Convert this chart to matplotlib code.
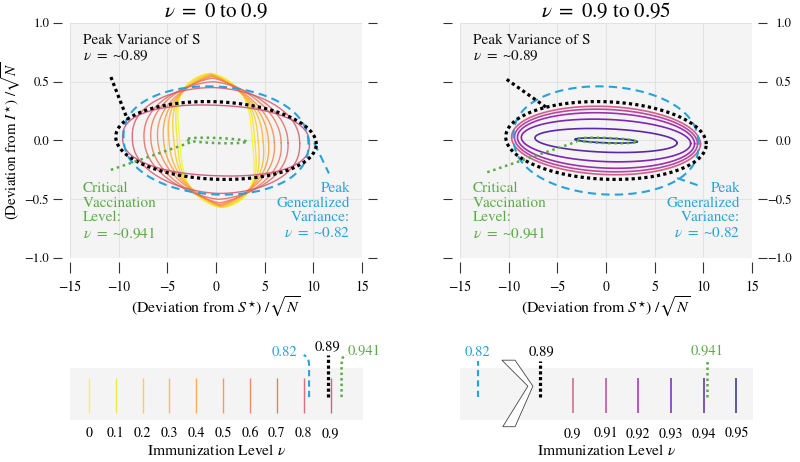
import numpy as np
import matplotlib.pyplot as plt
from matplotlib.patches import Polygon

plt.rcParams['font.family'] = 'STIXGeneral'
plt.rcParams['mathtext.fontset'] = 'stix'

# contour sizes: half width (S), half height (I)
nu_left = [0, 0.1, 0.2, 0.3, 0.4, 0.5, 0.6, 0.7, 0.8, 0.9]
width_left = [3.75, 4.0, 4.35, 4.85, 5.4, 6.0, 6.7, 7.4, 8.6, 9.6]
height_left = [0.57, 0.57, 0.565, 0.56, 0.555, 0.545, 0.53, 0.50, 0.45, 0.30]
# shape exponents (x, y) and shear of each contour
px_left = [1.5, 1.4, 1.3, 1.2, 1.2, 1.2, 1.3, 1.5, 1.8, 2.2]
py_left = [4.0, 3.5, 3.0, 2.6, 2.3, 2.2, 2.2, 2.2, 2.3, 2.4]
skew_left = [-1.0, -1.0, -1.0, -0.9, -0.8, -0.7, -0.6, -0.4, -0.2, 0.0]

nu_right = [0.9, 0.91, 0.92, 0.93, 0.94, 0.95]
width_right = [9.7, 9.4, 9.1, 8.7, 7.3, 3.2]
height_right = [0.29, 0.265, 0.235, 0.18, 0.10, 0.02]

# highlighted levels
nu_gv, width_gv, height_gv = 0.82, 9.5, 0.46      # peak generalized variance
nu_vs, width_vs, height_vs = 0.89, 10.3, 0.33     # peak variance of S
nu_cv, width_cv, height_cv = 0.941, 3.1, 0.022    # critical vaccination

# leader lines (x0, y0, x1, y1) for each panel
lead_vs = [(-10.8, 0.54, -9.1, 0.18), (-10.2, 0.52, -6.1, 0.28)]
lead_cv = [(-10.8, -0.25, -2.4, -0.01), (-12.2, -0.27, -3.0, -0.01)]
lead_gv = [(10.1, -0.02, 11.6, -0.28), (7.3, -0.32, 9.4, -0.38)]

# where 0.82 sits on the broken axis of the right strip
break_pos_gv = 0.871

blue = '#27a3dc'
green = '#5aab46'
bg = '#f4f4f4'
cmap = plt.get_cmap('plasma')


def col_left(nu):
    return cmap(1 - nu / 1.8)


def col_right(nu):
    return cmap(0.5 - (nu - 0.9) * 10)


def contour(a, b, p=2.0, q=2.0, skew=0.0, tilt=-0.003):
    t = np.linspace(0, 2 * np.pi, 600)
    c, s = np.cos(t), np.sin(t)
    u = a * np.sign(c) * np.abs(c) ** (2 / p)
    v = b * np.sign(s) * np.abs(s) ** (2 / q)
    return u + skew * v, v + tilt * u


fig = plt.figure(figsize=(8, 4.62), dpi=100)
ax1 = fig.add_axes([0.0875, 0.4416, 0.365, 0.5086])
ax2 = fig.add_axes([0.575, 0.4416, 0.365, 0.5086])
bx1 = fig.add_axes([0.0875, 0.091, 0.366, 0.1125])
bx2 = fig.add_axes([0.575, 0.091, 0.366, 0.1125])

for ax in (ax1, ax2):
    ax.set_facecolor(bg)
    ax.set_xlim(-15, 15)
    ax.set_ylim(-1, 1)
    ax.set_xticks([-15, -10, -5, 0, 5, 10, 15])
    ax.set_yticks([-1, -0.5, 0, 0.5, 1])
    ax.grid(color='#e2e2e2', lw=0.8)
    ax.set_axisbelow(True)
    for sp in ax.spines.values():
        sp.set_visible(False)
    ax.spines['left'].set_position(('outward', 6))
    ax.spines['right'].set_position(('outward', 4))
    ax.spines['bottom'].set_position(('outward', 3))
    ax.tick_params(axis='x', length=8, width=0.8, color='#333333', pad=5, labelsize=9.8)
    ax.tick_params(axis='y', length=6.5, width=0.8, color='#333333', labelsize=9.2,
                   left=True, right=True)
    ax.set_xlabel(r'(Deviation from $S^{\star}$) /$\sqrt{N}$', fontsize=11.4, labelpad=1)

ax1.tick_params(axis='y', labelleft=True, labelright=False, pad=2.5)
ax2.tick_params(axis='y', labelleft=False, labelright=True, pad=18)
for lab in ax2.get_yticklabels():
    lab.set_horizontalalignment('right')
ax1.set_ylabel(r'(Deviation from $I^{\star}$) /$\sqrt{N}$', fontsize=10.8)
ax1.yaxis.set_label_coords(-0.162, 0.5)
ax1.set_title(r'$\nu\ =\ 0\ \mathrm{to}\ 0.9$', fontsize=15, pad=4)
ax2.set_title(r'$\nu\ =\ 0.9\ \mathrm{to}\ 0.95$', fontsize=15, pad=4)

# colored contours
for nu, a, b, p, q, sk in zip(nu_left, width_left, height_left, px_left, py_left, skew_left):
    x, y = contour(a, b, p, q, sk)
    ax1.plot(x, y, color=col_left(nu), lw=1.0, alpha=0.85)
for nu, a, b in zip(nu_right, width_right, height_right):
    x, y = contour(a, b)
    ax2.plot(x, y, color=col_right(nu), lw=1.2, alpha=0.85)

# highlighted contours and annotations
for i, ax in enumerate((ax1, ax2)):
    x, y = contour(width_gv, height_gv, 2.0, 2.3, -0.2)
    ax.plot(x, y, color=blue, lw=1.5, ls=(0, (4, 2.5)), zorder=3)
    x, y = contour(width_vs, height_vs)
    ax.plot(x, y, color='black', lw=2.3, ls=(0, (1, 1)), zorder=4)
    x, y = contour(width_cv, height_cv)
    ax.plot(x, y, color=green, lw=1.8, ls=(0, (1, 1.5)), zorder=4)

    x0, y0, x1, y1 = lead_vs[i]
    ax.plot([x0, x1], [y0, y1], color='black', lw=2.3, ls=(0, (1, 1)), zorder=4)
    x0, y0, x1, y1 = lead_cv[i]
    ax.plot([x0, x1], [y0, y1], color=green, lw=1.8, ls=(0, (1, 1.5)), zorder=4)
    x0, y0, x1, y1 = lead_gv[i]
    ax.plot([x0, x1], [y0, y1], color=blue, lw=1.5, ls=(0, (4, 2.5)), zorder=3)

    ax.text(-13.7, 0.91, 'Peak Variance of S\n' + r'$\nu\ =\ $~0.89', fontsize=11,
            color='#111111', va='top', ha='left', linespacing=1.15)
    ax.text(-13.7, -0.35, 'Critical\nVaccination\nLevel:\n' + r'$\nu\ =\ $~0.941',
            fontsize=11, color=green, va='top', ha='left', linespacing=1.12)
    ax.text(13.8, -0.35, 'Peak\nGeneralized\nVariance:\n' + r'$\nu\ =\ $~0.82',
            fontsize=11, color=blue, va='top', ha='right', linespacing=1.12,
            multialignment='right')

# bottom strips
for bx in (bx1, bx2):
    bx.set_facecolor(bg)
    bx.set_ylim(0, 1)
    bx.set_yticks([])
    for sp in bx.spines.values():
        sp.set_visible(False)
    bx.tick_params(axis='x', length=0, pad=5, labelsize=10)
    bx.set_xlabel(r'Immunization Level $\nu$', fontsize=11.2, labelpad=2)

bx1.set_xlim(-0.07, 1.02)
bx1.set_xticks(nu_left)
bx1.set_xticklabels([f'{v:g}' for v in nu_left])
bx1.vlines(nu_left, 0.13, 0.81, colors=[col_left(v) for v in nu_left], lw=1.0, alpha=0.85)

bx1.plot([nu_gv, nu_gv, nu_gv - 0.004, nu_gv - 0.02], [0.44, 1.08, 1.2, 1.25],
         color=blue, lw=1.5, ls=(0, (3, 2)), clip_on=False)
bx1.text(nu_gv - 0.043, 1.31, f'{nu_gv:g}', color=blue, fontsize=10.5,
         ha='right', va='center')
bx1.plot([nu_vs, nu_vs], [0.44, 1.25], color='black', lw=2.3, ls=(0, (1, 0.8)),
         clip_on=False)
bx1.text(nu_vs, 1.41, f'{nu_vs:g}', color='black', fontsize=10.5,
         ha='center', va='center')
bx1.plot([nu_cv, nu_cv, nu_cv + 0.004, nu_cv + 0.018], [0.44, 1.08, 1.2, 1.25],
         color=green, lw=1.8, ls=(0, (1, 1.2)), clip_on=False)
bx1.text(nu_cv + 0.022, 1.31, f'{nu_cv:g}', color=green, fontsize=10.5,
         ha='left', va='center')

bx2.set_xlim(0.8655, 0.955)
bx2.set_xticks(nu_right)
bx2.set_xticklabels([f'{v:g}' for v in nu_right])
bx2.vlines(nu_right, 0.13, 0.81, colors=[col_right(v) for v in nu_right], lw=1.1, alpha=0.85)
bx2.plot([break_pos_gv, break_pos_gv], [0.45, 1.14], color=blue, lw=1.5,
         ls=(0, (3, 2)), clip_on=False)
bx2.text(break_pos_gv, 1.31, f'{nu_gv:g}', color=blue, fontsize=10.5,
         ha='center', va='center')
bx2.plot([nu_vs, nu_vs], [0.45, 1.14], color='black', lw=2.3,
         ls=(0, (1, 0.8)), clip_on=False)
bx2.text(nu_vs + 0.0005, 1.31, f'{nu_vs:g}', color='black', fontsize=10.5,
         ha='center', va='center')
bx2.plot([nu_cv, nu_cv], [0.45, 1.14], color=green, lw=1.8, ls=(0, (1, 1.2)),
         clip_on=False)
bx2.text(nu_cv, 1.31, f'{nu_cv:g}', color=green, fontsize=10.5,
         ha='center', va='center')

# axis-break zigzag
zig = [(0.143, 1.15), (0.232, 0.65), (0.146, -0.13), (0.188, -0.13),
       (0.249, 0.65), (0.188, 1.15)]
bx2.add_patch(Polygon(zig, closed=True, transform=bx2.transAxes, facecolor='white',
                      edgecolor='#444444', lw=0.6, clip_on=False, zorder=5))

fig.savefig('out.png', dpi=100)
